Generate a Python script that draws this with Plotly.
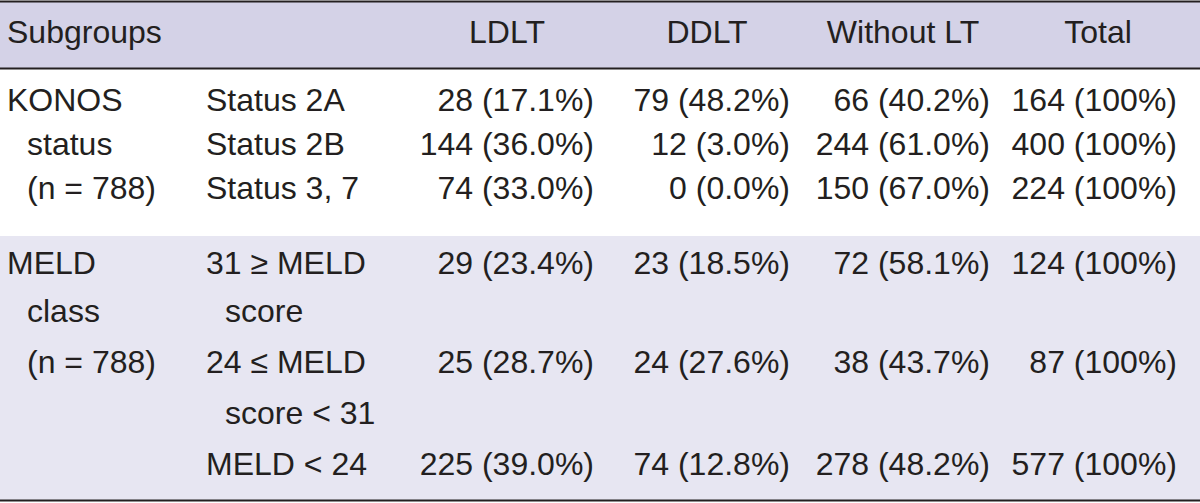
import plotly.graph_objects as go

# ---------------- data ----------------
header_labels = ["Subgroups", "LDLT", "DDLT", "Without LT", "Total"]
group_lines = [["KONOS", "status", "(n = 788)"], ["MELD", "class", "(n = 788)"]]
subgroup_lines = [["Status 2A"], ["Status 2B"], ["Status 3, 7"],
                  ["31 \u2265 MELD", "score"], ["24 \u2264 MELD", "score < 31"], ["MELD < 24"]]
ldlt_n = [28, 144, 74, 29, 25, 225]
ldlt_pct = ["17.1", "36.0", "33.0", "23.4", "28.7", "39.0"]
ddlt_n = [79, 12, 0, 23, 24, 74]
ddlt_pct = ["48.2", "3.0", "0.0", "18.5", "27.6", "12.8"]
without_n = [66, 244, 150, 72, 38, 278]
without_pct = ["40.2", "61.0", "67.0", "58.1", "43.7", "48.2"]
total_n = [164, 400, 224, 124, 87, 577]
total_pct = ["100", "100", "100", "100", "100", "100"]

# ---------------- layout constants (pixel space) ----------------
W, H = 1200, 503
FONT = "Liberation Sans, Arial, sans-serif"
FS = 32
TXT = "#231f20"
HEAD_FILL = "#d4d2e7"
BAND_FILL = "#e7e6f2"
header_base = 47
# baselines of text lines in the body
line_base = [115, 159, 203, 278, 326, 377, 428, 479]
row_first_line = [0, 1, 2, 3, 5, 7]
group_first_line = [0, 3]
band_top, band_bottom = 236, 500
col_group_x, col_group_indent = 7, 27
col_sub_x, col_sub_indent = 206, 225
right_edges = [594, 790, 990, 1177]
head_centers = [507, 707, 903, 1098]
DY = 12  # baseline -> visual middle

def ymid(b):
    return b - DY

fig = go.Figure()

def add_text(xs, ys, texts, pos):
    fig.add_trace(go.Scatter(x=xs, y=ys, text=texts, mode="text",
                             textposition=pos, hoverinfo="skip", showlegend=False,
                             textfont=dict(family=FONT, size=FS, color=TXT)))

# header
add_text([col_group_x], [ymid(header_base)], [header_labels[0]], "middle right")
add_text(head_centers, [ymid(header_base)] * 4, header_labels[1:], "middle center")

# group labels
gx, gy, gt = [], [], []
for gi, lines in enumerate(group_lines):
    for li, t in enumerate(lines):
        gx.append(col_group_x if li == 0 else col_group_indent)
        gy.append(ymid(line_base[group_first_line[gi] + li]))
        gt.append(t)
add_text(gx, gy, gt, "middle right")

# subgroup labels
sx, sy, st = [], [], []
for ri, lines in enumerate(subgroup_lines):
    for li, t in enumerate(lines):
        sx.append(col_sub_x if li == 0 else col_sub_indent)
        sy.append(ymid(line_base[row_first_line[ri] + li]))
        st.append(t)
add_text(sx, sy, st, "middle right")

# numeric columns
cols = [(ldlt_n, ldlt_pct), (ddlt_n, ddlt_pct), (without_n, without_pct), (total_n, total_pct)]
for ci, (ns, ps) in enumerate(cols):
    texts = [f"{n} ({p}%)" for n, p in zip(ns, ps)]
    ys = [ymid(line_base[row_first_line[r]]) for r in range(len(ns))]
    add_text([right_edges[ci]] * len(ns), ys, texts, "middle left")

# backgrounds and rules
shapes = [
    dict(type="rect", x0=0, x1=W, y0=2, y1=68, fillcolor=HEAD_FILL, line_width=0, layer="below"),
    dict(type="rect", x0=0, x1=W, y0=band_top, y1=band_bottom, fillcolor=BAND_FILL, line_width=0, layer="below"),
    dict(type="line", x0=0, x1=W, y0=1.5, y1=1.5, line=dict(color=TXT, width=2)),
    dict(type="line", x0=0, x1=W, y0=68.5, y1=68.5, line=dict(color=TXT, width=2)),
    dict(type="line", x0=0, x1=W, y0=500.5, y1=500.5, line=dict(color=TXT, width=2)),
]

fig.update_layout(
    width=W, height=H, margin=dict(l=0, r=0, t=0, b=0),
    paper_bgcolor="white", plot_bgcolor="white",
    xaxis=dict(range=[0, W], visible=False, fixedrange=True),
    yaxis=dict(range=[H, 0], visible=False, fixedrange=True),
    shapes=shapes,
)
fig.write_html("out.html", config={"displayModeBar": False},
               post_script="document.body.style.margin='0px';document.body.style.overflow='hidden';")
